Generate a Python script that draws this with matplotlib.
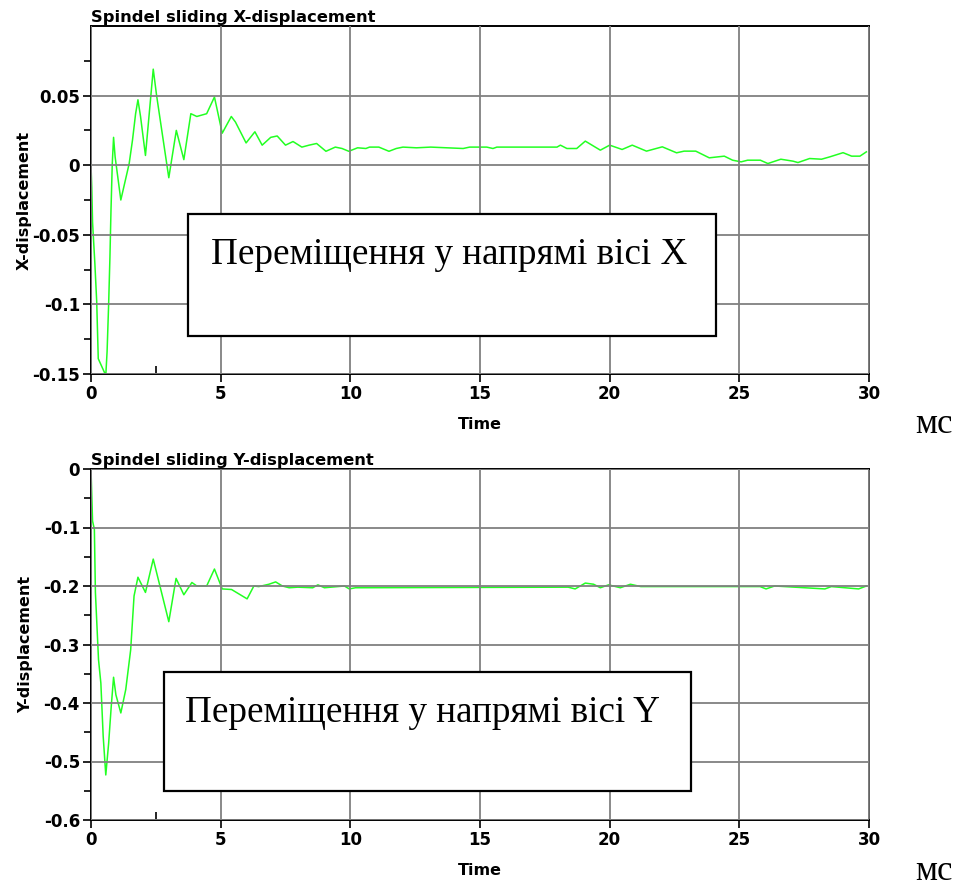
import matplotlib
matplotlib.use("Agg")
import matplotlib.pyplot as plt
from matplotlib.patches import Rectangle
from matplotlib.ticker import FixedLocator

# ---- data ----
t_x = [0, 0.03, 0.06, 0.15, 0.22, 0.28, 0.57, 0.62, 0.68, 0.73, 0.77, 0.82, 0.87, 0.93,
       1.15, 1.47, 1.60, 1.72, 1.81, 1.91, 2.10, 2.40, 2.53, 3.00, 3.29, 3.58, 3.85, 4.08,
       4.46, 4.76, 5.06, 5.41, 5.57, 5.98, 6.32, 6.60, 6.93, 7.18, 7.50, 7.79, 8.13, 8.41,
       8.70, 9.06, 9.42, 9.68, 9.94, 10.28, 10.60, 10.74, 11.10, 11.49, 11.77, 12.03, 12.55,
       13.10, 14.35, 14.60, 15.26, 15.50, 15.65, 17.97, 18.10, 18.35, 18.73, 19.06, 19.64,
       20.00, 20.48, 20.87, 21.42, 22.03, 22.58, 22.87, 23.32, 23.84, 24.42, 24.74, 25.07,
       25.32, 25.81, 26.10, 26.60, 27.07, 27.26, 27.71, 28.17, 28.49, 29.00, 29.33, 29.65, 29.90]
x_disp = [0, -0.016, -0.041, -0.071, -0.098, -0.139, -0.151, -0.134, -0.100, -0.066, -0.033,
          0.001, 0.020, 0.006, -0.025, 0.001, 0.018, 0.037, 0.047, 0.035, 0.007, 0.069, 0.050,
          -0.009, 0.025, 0.004, 0.037, 0.035, 0.037, 0.049, 0.023, 0.035, 0.031, 0.016, 0.024,
          0.0144, 0.020, 0.021, 0.0144, 0.017, 0.013, 0.0144, 0.0156, 0.010, 0.013, 0.012, 0.010,
          0.0125, 0.012, 0.013, 0.013, 0.010, 0.012, 0.013, 0.0125, 0.013, 0.012, 0.013, 0.013,
          0.012, 0.013, 0.013, 0.0144, 0.012, 0.012, 0.0173, 0.0108, 0.0144, 0.0113, 0.0144,
          0.0101, 0.0132, 0.0089, 0.0101, 0.0101, 0.0053, 0.0065, 0.0036, 0.0024, 0.0036, 0.0036,
          0.0012, 0.0043, 0.0029, 0.0019, 0.0048, 0.0043, 0.006, 0.009, 0.0065, 0.0065, 0.0096]

t_y = [0, 0.06, 0.13, 0.17, 0.29, 0.38, 0.47, 0.57, 0.68, 0.78, 0.87, 0.96, 1.15, 1.34, 1.53,
       1.66, 1.81, 2.10, 2.40, 3.00, 3.28, 3.58, 3.89, 4.08, 4.46, 4.76, 5.06, 5.42, 6.02, 6.28,
       6.47, 6.86, 7.12, 7.38, 7.64, 7.97, 8.55, 8.75, 9.00, 9.77, 9.96, 10.20, 18.40, 18.67,
       19.06, 19.38, 19.64, 19.96, 20.41, 20.80, 21.20, 25.80, 26.03, 26.36, 28.30, 28.55,
       29.60, 29.90]
y_disp = [0, -0.089, -0.103, -0.211, -0.326, -0.366, -0.457, -0.523, -0.469, -0.406, -0.356,
          -0.386, -0.417, -0.377, -0.309, -0.217, -0.185, -0.211, -0.154, -0.261, -0.187, -0.215,
          -0.194, -0.200, -0.200, -0.171, -0.205, -0.206, -0.222, -0.200, -0.201, -0.197, -0.193,
          -0.200, -0.203, -0.202, -0.203, -0.198, -0.203, -0.200, -0.205, -0.203, -0.202, -0.205,
          -0.195, -0.197, -0.203, -0.198, -0.203, -0.197, -0.201, -0.201, -0.205, -0.200, -0.205,
          -0.201, -0.205, -0.200]

x_ticks = [0, 5, 10, 15, 20, 25, 30]
top_yticks = [-0.15, -0.1, -0.05, 0, 0.05]
top_ylabels = ["-0.15", "-0.1", "-0.05", "0", "0.05"]
bot_yticks = [-0.6, -0.5, -0.4, -0.3, -0.2, -0.1, 0]
bot_ylabels = ["-0.6", "-0.5", "-0.4", "-0.3", "-0.2", "-0.1", "0"]

titles = ["Spindel sliding X-displacement", "Spindel sliding Y-displacement"]
ylabels = ["X-displacement", "Y-displacement"]
box_texts = ["Переміщення у напрямі вісі X", "Переміщення у напрямі вісі Y"]
unit_text = "мс"

# ---- figure ----
W, H = 960, 889
fig = plt.figure(figsize=(W / 100, H / 100), dpi=100)
fig.patch.set_facecolor("white")

def fx(px):
    return px / W

def fy(py):
    return 1 - py / H

ax1 = fig.add_axes([fx(91), fy(374), fx(869) - fx(91), fy(26) - fy(374)])
ax2 = fig.add_axes([fx(91), fy(820), fx(869) - fx(91), fy(469) - fy(820)])

bold = dict(family="DejaVu Sans", weight="bold")

configs = [
    (ax1, t_x, x_disp, (-0.15, 0.1), top_yticks, top_ylabels, [-0.125, -0.075, -0.025, 0.025, 0.075], 32),
    (ax2, t_y, y_disp, (-0.6, 0.0), bot_yticks, bot_ylabels, [-0.55, -0.45, -0.35, -0.25, -0.15, -0.05], 33),
]

for i, (ax, tt, vv, ylim, yt, yl, yminor, lab_right) in enumerate(configs):
    ax.plot(tt, vv, color="#22ff22", lw=1.1, zorder=2)
    ax.set_xlim(0, 30)
    ax.set_ylim(*ylim)
    ax.set_xticks(x_ticks)
    ax.set_xticklabels([str(v) for v in x_ticks], fontsize=12, **bold)
    ax.set_yticks(yt)
    ax.set_yticklabels(yl, fontsize=12, **bold)
    ax.yaxis.set_minor_locator(FixedLocator(yminor))
    ax.xaxis.set_minor_locator(FixedLocator([2.5]))
    ax.tick_params(axis="both", which="major", direction="out", length=6, width=1.2, pad=2, color="black")
    ax.tick_params(axis="y", which="minor", direction="out", length=5, width=1.2, color="black")
    ax.tick_params(axis="x", which="minor", direction="in", length=6, width=1.2, color="black")
    ax.grid(True, which="major", color="#808080", lw=1.3)
    ax.set_axisbelow(False)
    for s in ["left", "bottom", "top"]:
        ax.spines[s].set_color("black")
        ax.spines[s].set_linewidth(1.4)
    ax.spines["right"].set_color("#606060")
    ax.spines["right"].set_linewidth(1.4)
    ax.set_xlabel("Time", fontsize=11.5, labelpad=10, **bold)
    ax.set_ylabel(ylabels[i], fontsize=11.5, **bold)
    ax.yaxis.set_label_coords((lab_right - 91) / 778, 0.5)
    ax.text(0.0, 1.004, titles[i], transform=ax.transAxes, ha="left", va="bottom",
            fontsize=11.8, **bold)

# text boxes
boxes = [((188, 214, 716, 336), (211, 264)), ((164, 672, 691, 791), (185, 722))]
for (x0, y0, x1, y1), (tx, ty) in boxes:
    rect = Rectangle((fx(x0), fy(y1)), fx(x1) - fx(x0), fy(y0) - fy(y1),
                     transform=fig.transFigure, facecolor="white", edgecolor="black",
                     lw=1.6, zorder=10)
    fig.add_artist(rect)
for (box, (tx, ty)), txt in zip(boxes, box_texts):
    fig.text(fx(tx), fy(ty), txt, ha="left", va="baseline", fontsize=26.7,
             family="Liberation Serif", zorder=11)

fig.text(fx(915), fy(433), unit_text, ha="left", va="baseline", fontsize=25,
         family="Liberation Serif")
fig.text(fx(915), fy(880), unit_text, ha="left", va="baseline", fontsize=25,
         family="Liberation Serif")

fig.savefig("out.png", dpi=100, facecolor="white")
